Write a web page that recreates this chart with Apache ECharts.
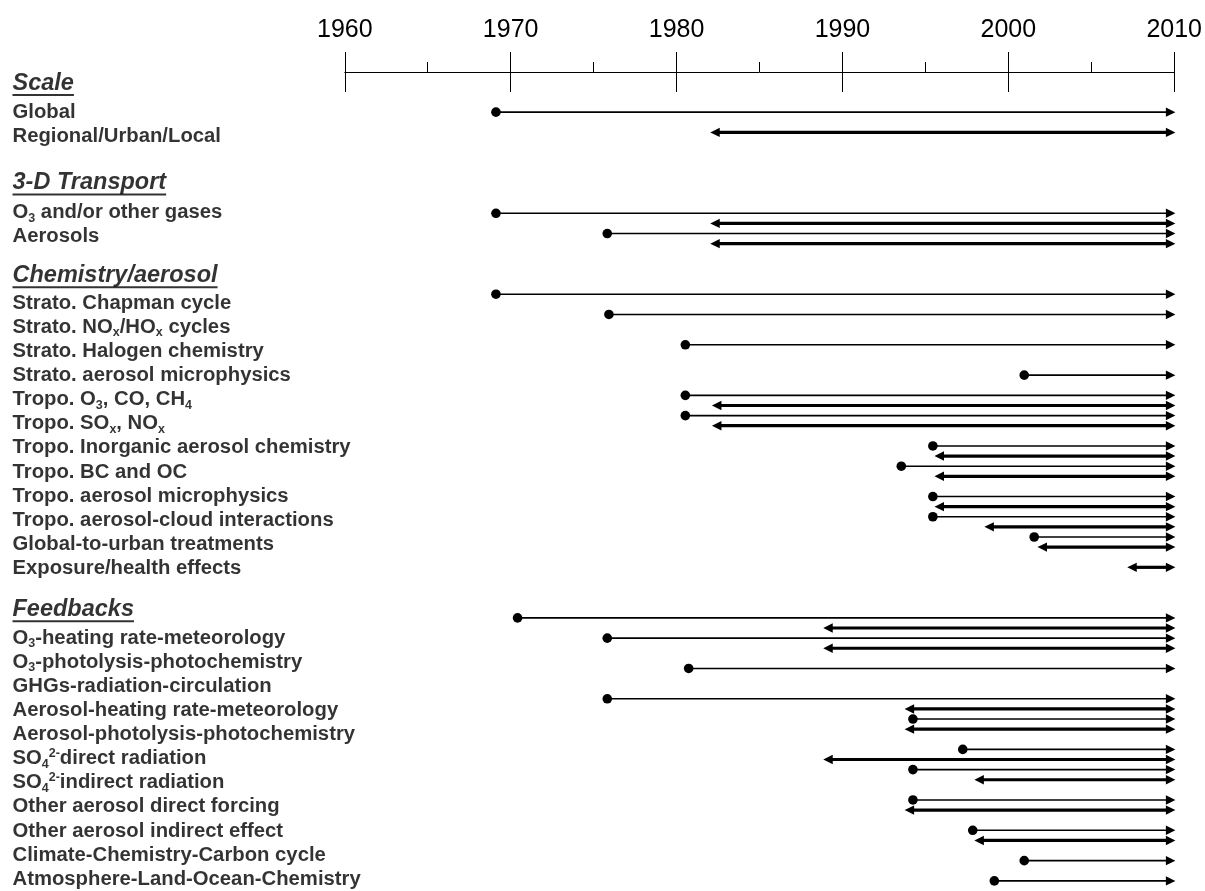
<!DOCTYPE html>
<html>
<head>
<meta charset="utf-8">
<script src="https://cdn.jsdelivr.net/npm/echarts@6/dist/echarts.min.js"></script>
<style>html,body{margin:0;padding:0;background:#fff}#c{width:1205px;height:891px}</style>
</head>
<body>
<div id="c"></div>
<script>
// ---------------- data ----------------
const yearTicks = [1960, 1970, 1980, 1990, 2000, 2010];

const sectionTitles = ['Scale', '3-D Transport', 'Chemistry/aerosol', 'Feedbacks'];
const sectionRows = [-2.86, 6.99, 16.15, 49.16];

const itemLabels = [
  'Global',
  'Regional/Urban/Local',
  'O{sub|3} and/or other gases',
  'Aerosols',
  'Strato. Chapman cycle',
  'Strato. NO{sub|x}/HO{sub|x} cycles',
  'Strato. Halogen chemistry',
  'Strato. aerosol microphysics',
  'Tropo. O{sub|3}, CO, CH{sub|4}',
  'Tropo. SO{sub|x}, NO{sub|x}',
  'Tropo. Inorganic aerosol chemistry',
  'Tropo. BC and OC',
  'Tropo. aerosol microphysics',
  'Tropo. aerosol-cloud interactions',
  'Global-to-urban treatments',
  'Exposure/health effects',
  'O{sub|3}-heating rate-meteorology',
  'O{sub|3}-photolysis-photochemistry',
  'GHGs-radiation-circulation',
  'Aerosol-heating rate-meteorology',
  'Aerosol-photolysis-photochemistry',
  'SO{sub|4}{sup|2-}direct radiation',
  'SO{sub|4}{sup|2-}indirect radiation',
  'Other aerosol direct forcing',
  'Other aerosol indirect effect',
  'Climate-Chemistry-Carbon cycle',
  'Atmosphere-Land-Ocean-Chemistry'
];
const itemRows = [
  0.02, 2.40,
  9.93, 12.31,
  18.89, 21.27, 23.65, 26.04, 28.42, 30.81, 33.19, 35.58, 37.96, 40.35, 42.73, 45.12,
  51.99, 54.37, 56.76, 59.14, 61.53, 63.91, 66.30, 68.68, 71.06, 73.45, 75.83
];

// development lines: row slot, start year, kind (0 = global model, dot; 1 = regional model, two-headed)
const lineRows = [
  0, 2,
  10, 11, 12, 13,
  18, 20, 23, 26, 28, 29, 30, 31, 33, 34, 35, 36, 38, 39, 40, 41, 42, 43, 45,
  50, 51, 52, 53, 55, 58, 59, 60, 61, 63, 64, 65, 66, 68, 69, 71, 72, 74, 76
];
const lineStarts = [
  1969.1, 1982.0,
  1969.1, 1982.0, 1975.8, 1982.0,
  1969.1, 1975.9, 1980.5, 2000.9, 1980.5, 1982.1, 1980.5, 1982.1, 1995.4, 1995.5, 1993.5, 1995.5,
  1995.4, 1995.5, 1995.4, 1998.5, 2001.5, 2001.7, 2007.1,
  1970.4, 1988.8, 1975.8, 1988.8, 1980.7, 1975.8, 1993.7, 1994.2, 1993.7, 1997.2, 1988.8,
  1994.2, 1997.9, 1994.2, 1993.7, 1997.8, 1997.9, 2000.9, 1999.1
];
const lineKinds = [
  0, 1,
  0, 1, 0, 1,
  0, 0, 0, 0, 0, 1, 0, 1, 0, 1, 0, 1, 0, 1, 0, 1, 0, 1, 1,
  0, 1, 0, 1, 0, 0, 1, 0, 1, 0, 1, 0, 1, 0, 1, 0, 1, 0, 0
];
const lineEnd = 2010;

// ---------------- chart ----------------
const FONT = '"Liberation Sans", Arial, Helvetica, sans-serif';
const chart = echarts.init(document.getElementById('c'), null, {renderer: 'canvas'});

const spans = lineRows.map((r, i) => [lineStarts[i], lineEnd, r, lineKinds[i]]);

function renderSpan(params, api) {
  const row = api.value(2);
  const kind = api.value(3);
  const a = api.coord([api.value(0), row]);
  const b = api.coord([api.value(1), row]);
  const L = 9.5, W = 4.7;
  const lw = kind ? 3.2 : 1.6;
  const children = [];
  children.push({
    type: 'line',
    shape: {x1: kind ? a[0] + L - 1 : a[0], y1: a[1], x2: b[0] - L + 1, y2: b[1]},
    style: {stroke: '#000', lineWidth: lw}
  });
  children.push({
    type: 'polygon',
    shape: {points: [[b[0], b[1]], [b[0] - L, b[1] - W], [b[0] - L, b[1] + W]]},
    style: {fill: '#000'}
  });
  if (kind) {
    children.push({
      type: 'polygon',
      shape: {points: [[a[0], a[1]], [a[0] + L, a[1] - W], [a[0] + L, a[1] + W]]},
      style: {fill: '#000'}
    });
  } else {
    children.push({type: 'circle', shape: {cx: a[0], cy: a[1], r: 4.8}, style: {fill: '#000'}});
  }
  return {type: 'group', children};
}

const Y_MIN = -4, Y_MAX = 77;
const gridTop = 71.7, gridH = 822.15;
const tokBase = {fontFamily: FONT, fontWeight: 'bold', color: '#000'};

const option = {
  animation: false,
  backgroundColor: '#fff',
  grid: [
    {left: 344.8, right: 29.6, top: gridTop, height: gridH},
    {left: 12.5, width: 320, top: gridTop, height: gridH},
    {left: 344.8, right: 29.6, top: 71, height: 1}
  ],
  xAxis: [
    {gridIndex: 0, type: 'value', min: 1960, max: 2010, show: false},
    {gridIndex: 1, type: 'value', min: 0, max: 1, show: false},
    {
      gridIndex: 2, type: 'value', position: 'top', min: 1960, max: 2010, interval: 10,
      axisLine: {show: true, lineStyle: {color: '#000', width: 1}},
      axisTick: {show: true, length: 20, lineStyle: {color: '#000', width: 1}},
      minorTick: {show: true, splitNumber: 2, length: 10, lineStyle: {color: '#000', width: 1}},
      splitLine: {show: false},
      axisLabel: {
        show: true, margin: 28, fontSize: 25, fontFamily: FONT, color: '#000',
        formatter: v => (yearTicks.indexOf(v) >= 0 ? String(v) : '')
      }
    },
    {
      gridIndex: 2, type: 'value', position: 'bottom', min: 1960, max: 2010, interval: 10,
      axisLine: {show: false},
      axisTick: {show: true, length: 20, lineStyle: {color: '#000', width: 1}},
      splitLine: {show: false},
      axisLabel: {show: false}
    }
  ],
  yAxis: [
    {gridIndex: 0, type: 'value', min: Y_MIN, max: Y_MAX, inverse: true, show: false},
    {gridIndex: 1, type: 'value', min: Y_MIN, max: Y_MAX, inverse: true, show: false},
    {gridIndex: 2, type: 'value', show: false}
  ],
  series: [
    {
      type: 'custom', xAxisIndex: 0, yAxisIndex: 0, clip: false, silent: true,
      renderItem: renderSpan, data: spans
    },
    {
      type: 'scatter', xAxisIndex: 1, yAxisIndex: 1, symbolSize: 0, silent: true,
      data: itemRows.map((r, i) => ({value: [0, r], name: itemLabels[i]})),
      label: {
        show: true, position: 'right', distance: 0,
        formatter: p => p.name,
        fontSize: 20.3, fontWeight: 'bold', fontFamily: FONT, color: '#000', lineHeight: 24,
        rich: {
          sub: Object.assign({fontSize: 12.5, lineHeight: 12, verticalAlign: 'bottom'}, tokBase),
          sup: Object.assign({fontSize: 12.5, lineHeight: 12, verticalAlign: 'top'}, tokBase)
        }
      }
    },
    {
      type: 'scatter', xAxisIndex: 1, yAxisIndex: 1, symbolSize: 0, silent: true,
      data: sectionRows.map((r, i) => ({value: [0, r], name: sectionTitles[i]})),
      label: {
        show: true, position: 'right', distance: 0, offset: [0, 1],
        formatter: p => '{h|' + p.name + '}\n{u|' + p.name + '}',
        fontSize: 23.5, fontWeight: 'bold', fontStyle: 'italic', fontFamily: FONT, color: '#000',
        rich: {
          h: Object.assign({fontSize: 23.5, fontStyle: 'italic', lineHeight: 21.5}, tokBase),
          u: {fontSize: 23.5, fontStyle: 'italic', fontWeight: 'bold', fontFamily: FONT,
              color: 'rgba(0,0,0,0)', backgroundColor: '#000', height: 2, lineHeight: 2}
        }
      }
    }
  ]
};
chart.setOption(option);
</script>
</body>
</html>
